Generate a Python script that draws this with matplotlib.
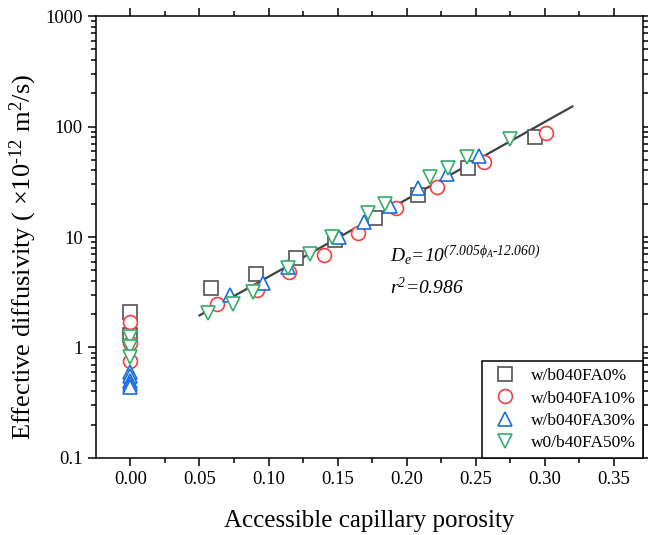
"""Effective diffusivity vs accessible capillary porosity (log scale) with fit line."""
import matplotlib
matplotlib.use("Agg")
import matplotlib.pyplot as plt
import numpy as np

plt.rcParams["font.family"] = ["Liberation Serif", "DejaVu Serif"]
plt.rcParams["mathtext.fontset"] = "custom"
plt.rcParams["mathtext.rm"] = "Liberation Serif"
plt.rcParams["mathtext.it"] = "Liberation Serif:italic"
plt.rcParams["mathtext.bf"] = "Liberation Serif:bold"
# sf slot used for the italic annotation (digits included)
plt.rcParams["mathtext.sf"] = "Liberation Serif:italic"

LABELS = ["w/b040FA0%", "w/b040FA10%", "w/b040FA30%", "w0/b40FA50%"]
COLORS = ["#515151", "#F14040", "#1A6FDF", "#37AD6B"]
MARKERS = ["s", "o", "^", "v"]

# accessible capillary porosity / effective diffusivity (1e-12 m2/s)
fa0_x = [0.0, 0.0, 0.058, 0.091, 0.120, 0.148, 0.177, 0.2085, 0.2446, 0.293]
fa0_y = [2.1, 1.3, 3.45, 4.6, 6.4, 9.3, 14.8, 24.0, 42.0, 80.0]
fa10_x = [0.0, 0.0, 0.0, 0.063, 0.092, 0.1145, 0.140, 0.165, 0.192, 0.222, 0.256, 0.301]
fa10_y = [1.7, 1.1, 0.75, 2.46, 3.3, 4.8, 6.9, 10.9, 18.3, 28.5, 48.0, 87.0]
fa30_x = [0.0, 0.0, 0.0, 0.0, 0.0, 0.072, 0.096, 0.114, 0.151, 0.169, 0.188, 0.2085, 0.229, 0.2526]
fa30_y = [0.6, 0.55, 0.5, 0.47, 0.44, 3.0, 3.8, 5.3, 10.1, 13.8, 19.0, 27.6, 37.0, 54.0]
fa50_x = [0.0, 0.0, 0.0, 0.056, 0.074, 0.089, 0.114, 0.130, 0.146, 0.172, 0.184, 0.217, 0.230, 0.244, 0.275]
fa50_y = [1.25, 1.0, 0.82, 2.05, 2.5, 3.2, 5.2, 7.0, 10.0, 16.4, 20.0, 35.0, 42.0, 53.0, 77.0]

SERIES_X = [fa0_x, fa10_x, fa30_x, fa50_x]
SERIES_Y = [fa0_y, fa10_y, fa30_y, fa50_y]

# fit: De = 10^(7.005*phi - 12.060) m2/s
FIT_SLOPE = 7.005
FIT_INTERCEPT = -12.060
FIT_RANGE = [0.05, 0.32]


def main() -> None:
    fig = plt.figure(figsize=(6.48, 5.35), dpi=100)
    ax = fig.add_axes([0.148, 0.144, 0.844, 0.826])

    phi = np.linspace(FIT_RANGE[0], FIT_RANGE[1], 50)
    ax.plot(phi, 10 ** (FIT_SLOPE * phi + FIT_INTERCEPT + 12), color="#404040", lw=1.6, zorder=2)

    for xs, ys, lab, col, mk in zip(SERIES_X, SERIES_Y, LABELS, COLORS, MARKERS):
        ax.plot(xs, ys, ls="none", marker=mk, ms=10, mfc="white", mec=col, mew=1.2,
                label=lab, zorder=3)

    ax.set_yscale("log")
    ax.set_xlim(-0.025, 0.371)
    ax.set_ylim(0.1, 1000)
    ax.set_xticks(np.arange(0, 0.36, 0.05))
    ax.set_xticks(np.arange(0.025, 0.37, 0.05), minor=True)
    ax.set_yticks([0.1, 1, 10, 100, 1000])
    ax.set_yticklabels(["0.1", "1", "10", "100", "1000"])
    ax.set_xticklabels([f"{v:.2f}" for v in np.arange(0, 0.36, 0.05)])

    ax.tick_params(which="both", direction="out", top=True, right=True, labelsize=13.5, width=1.1)
    ax.tick_params(which="major", length=6)
    ax.tick_params(which="minor", length=3.5)
    for s in ax.spines.values():
        s.set_linewidth(1.1)

    ax.set_xlabel("Accessible capillary porosity", fontsize=18, labelpad=16)
    ax.set_ylabel(r"Effective diffusivity ( ×10$^{\text{-}12}$ m$^{2}$/s)", fontsize=19)
    ax.yaxis.set_label_coords(-0.104, 0.455)

    ax.text(0.188, 6.9, r"$\mathsf{D_e}$=10$^{\mathsf{(7.005\phi_A\text{-}12.060)}}$",
            fontsize=14, fontstyle="italic", va="center", ha="left")
    ax.text(0.188, 3.5, r"$\mathsf{r^2}$=0.986", fontsize=14, fontstyle="italic",
            va="center", ha="left")

    leg = ax.legend(loc="lower right", borderaxespad=0, fontsize=12.5, frameon=True,
                    fancybox=False, framealpha=1, edgecolor="black", handletextpad=0.6,
                    labelspacing=0.35, borderpad=0.4, handlelength=1.8)
    leg.get_frame().set_linewidth(1.1)

    fig.savefig("out.png", dpi=100)
    plt.close(fig)


if __name__ == "__main__":
    main()
